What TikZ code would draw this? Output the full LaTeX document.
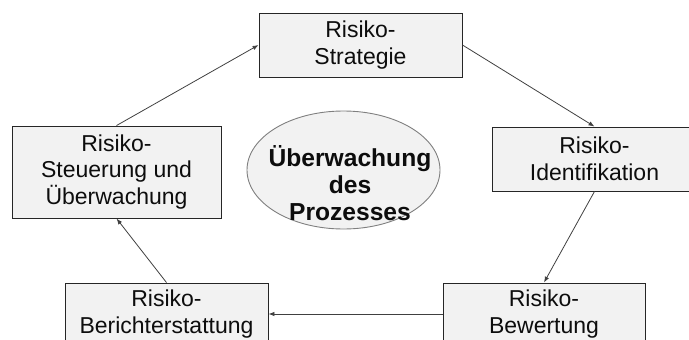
\documentclass[tikz,border=0pt]{standalone}
\usepackage{fontspec}
\setmainfont{Liberation Sans}
\usetikzlibrary{arrows.meta,shapes.geometric}
\definecolor{boxfill}{HTML}{F2F2F2}
\definecolor{boxline}{HTML}{262626}
\definecolor{arrline}{HTML}{404040}
\definecolor{ellline}{HTML}{7F7F7F}
\definecolor{txt}{HTML}{0D0D0D}
\tikzset{
  stepbox/.style={draw=boxline, line width=0.9pt, fill=boxfill, rectangle, inner sep=0pt,
    align=center, text=txt, font=\fontsize{23}{26.7}\selectfont},
  centre/.style={draw=ellline, line width=0.9pt, fill=boxfill, ellipse, inner sep=0pt},
  centretext/.style={inner sep=0pt, align=center, text=txt, font=\fontsize{24.6}{26.8}\selectfont\bfseries},
  conn/.style={draw=arrline, line width=0.8pt, -{Latex[length=6pt,width=4.5pt]}}
}
\begin{document}
\begin{tikzpicture}[x=1pt,y=-1pt]
\useasboundingbox (0,0) rectangle (689,340);
\clip (0,0) rectangle (689,340);
\node[stepbox, minimum width=203pt, minimum height=64pt] (strat) at (360.5,45) {Risiko-\\Strategie};
\node[stepbox, minimum width=205pt, minimum height=64pt] (ident) at (594.5,159) {Risiko-\\Identifikation};
\node[stepbox, minimum width=202pt, minimum height=62pt] (bew) at (544,314) {Risiko-\\Bewertung};
\node[stepbox, minimum width=203pt, minimum height=62pt] (ber) at (166.5,314) {Risiko-\\Berichterstattung};
\node[stepbox, minimum width=209pt, minimum height=92pt] (steu) at (116.5,172) {Risiko-\\Steuerung und\\Überwachung};
\node[centre, minimum width=193pt, minimum height=118pt] (mon) at (343.5,170) {};
\node[centretext] (montxt) at ([shift={(6.5,13)}]mon.center) {Überwachung\\des\\Prozesses};
\draw[conn] (strat.east) -- (ident.north);
\draw[conn] (ident.south) -- (bew.north);
\draw[conn] (bew.west) -- (ber.east);
\draw[conn] (ber.north) -- (steu.south);
\draw[conn] (steu.north) -- (strat.west);
\end{tikzpicture}
\end{document}
